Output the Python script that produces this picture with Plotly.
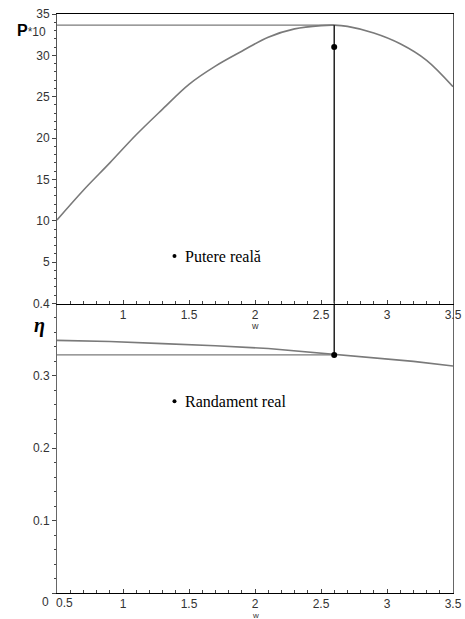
import plotly.graph_objects as go

# ---- data ----
w_P = [0.5, 0.7, 0.9, 1.1, 1.3, 1.5, 1.7, 1.9, 2.1, 2.3, 2.5, 2.6, 2.7, 2.9, 3.1, 3.3, 3.5]
P10 = [10.1, 13.7, 17.0, 20.4, 23.5, 26.5, 28.7, 30.5, 32.2, 33.2, 33.6, 33.65, 33.5, 32.7, 31.4, 29.4, 26.2]

w_eta = [0.5, 0.9, 1.3, 1.7, 2.1, 2.5, 2.6, 2.9, 3.2, 3.5]
eta = [0.349, 0.3475, 0.3445, 0.3417, 0.3378, 0.3315, 0.3297, 0.3254, 0.3200, 0.3137]

w_opt = 2.6
P_opt = 33.65
P_dot = 31.0
eta_opt = 0.329

label_w = 1.39
P_label_y = 5.74
eta_label_y = 0.265

x_ticks = [0.5, 1, 1.5, 2, 2.5, 3, 3.5]
P_ticks = [5, 10, 15, 20, 25, 30, 35]
eta_ticks = [0, 0.1, 0.2, 0.3, 0.4]

CURVE = "#7a7a7a"
AX = "#444444"
TICKFONT = dict(family="Liberation Sans, Arial, sans-serif", size=12, color="#333333")

fig = go.Figure()

# ---- top panel (P*10) ----
fig.add_trace(go.Scatter(x=[x_ticks[0], w_opt], y=[P_opt, P_opt], mode="lines",
                         line=dict(color=CURVE, width=1.3), xaxis="x2", yaxis="y2"))
fig.add_trace(go.Scatter(x=w_P, y=P10, mode="lines", line=dict(color=CURVE, width=1.6, shape="spline"),
                         xaxis="x2", yaxis="y2"))
fig.add_trace(go.Scatter(x=[w_opt, w_opt], y=[P_opt, 0], mode="lines",
                         line=dict(color="black", width=1.3), xaxis="x2", yaxis="y2"))
fig.add_trace(go.Scatter(x=[w_opt], y=[P_dot], mode="markers",
                         marker=dict(color="black", size=6), xaxis="x2", yaxis="y2"))
fig.add_trace(go.Scatter(x=[label_w], y=[P_label_y], mode="markers",
                         marker=dict(color="black", size=4), xaxis="x2", yaxis="y2"))

# ---- bottom panel (eta) ----
fig.add_trace(go.Scatter(x=[x_ticks[0], w_opt], y=[eta_opt, eta_opt], mode="lines",
                         line=dict(color=CURVE, width=1.3), xaxis="x", yaxis="y"))
fig.add_trace(go.Scatter(x=w_eta, y=eta, mode="lines", line=dict(color=CURVE, width=1.6),
                         xaxis="x", yaxis="y"))
fig.add_trace(go.Scatter(x=[w_opt, w_opt], y=[eta_ticks[-1], eta_opt], mode="lines",
                         line=dict(color="black", width=1.3), xaxis="x", yaxis="y"))
fig.add_trace(go.Scatter(x=[w_opt], y=[eta_opt], mode="markers",
                         marker=dict(color="black", size=6), xaxis="x", yaxis="y"))
fig.add_trace(go.Scatter(x=[label_w], y=[eta_label_y], mode="markers",
                         marker=dict(color="black", size=4), xaxis="x", yaxis="y"))

common_x = dict(range=[x_ticks[0], x_ticks[-1]], showgrid=False, zeroline=False, automargin=False,
                showline=True, linewidth=1, ticks="inside", ticklen=4, tickcolor=AX,
                tickfont=TICKFONT,
                minor=dict(dtick=0.1, ticks="inside", ticklen=3, tickcolor=AX))

fig.update_layout(
    width=465, height=619,
    margin=dict(l=56.7, r=11.5, t=14, b=26.3, autoexpand=False),
    paper_bgcolor="white", plot_bgcolor="white",
    showlegend=False,
    xaxis=dict(**common_x, domain=[0, 1], anchor="y", linecolor="black",
               tickvals=x_ticks, ticktext=[""] + [f"{v:g}" for v in x_ticks[1:]]),
    yaxis=dict(domain=[0, 0.5], anchor="x", range=[eta_ticks[0], eta_ticks[-1]], automargin=False,
               showgrid=False, zeroline=False, showline=True, linewidth=1, linecolor="#666666",
               mirror=True, ticks="outside", ticklen=4, tickcolor=AX, tickfont=TICKFONT,
               tickvals=eta_ticks, ticktext=[""] + [f"{v:g}" for v in eta_ticks[1:]],
               minor=dict(dtick=0.02, ticks="outside", ticklen=2, tickcolor=AX)),
    xaxis2=dict(**common_x, domain=[0, 1], anchor="y2", linecolor="black", mirror=True,
                tickvals=x_ticks[1:], ticktext=[f"{v:g}" for v in x_ticks[1:]]),
    yaxis2=dict(domain=[0.5, 1], anchor="x2", range=[0, 35], automargin=False,
                showgrid=False, zeroline=False, showline=True, linewidth=1, linecolor="#555555",
                mirror=True, ticks="outside", ticklen=4, tickcolor=AX, tickfont=TICKFONT,
                tickvals=P_ticks, ticktext=[str(v) for v in P_ticks],
                minor=dict(dtick=1, ticks="outside", ticklen=2, tickcolor=AX)),
)

SERIF = "Liberation Serif, Times New Roman, serif"
ann = [
    dict(x=label_w, y=P_label_y, xref="x2", yref="y2", text="Putere reală", showarrow=False,
         xanchor="left", yanchor="middle", xshift=9, font=dict(family=SERIF, size=16, color="black")),
    dict(x=label_w, y=eta_label_y, xref="x", yref="y", text="Randament real", showarrow=False,
         xanchor="left", yanchor="middle", xshift=9, font=dict(family=SERIF, size=16, color="black")),
    dict(x=2, y=0, xref="x2", yref="y2", text="w", showarrow=False, yanchor="top", yshift=-15,
         font=dict(family="Liberation Sans, Arial", size=9, color="#333333")),
    dict(x=2, y=0, xref="x", yref="y", text="w", showarrow=False, yanchor="top", yshift=-15.5,
         font=dict(family="Liberation Sans, Arial", size=8, color="#333333")),
    dict(x=x_ticks[0], y=0, xref="x", yref="y", text="0.5", showarrow=False,
         xanchor="left", yanchor="top", xshift=-3, yshift=-1, font=TICKFONT),
    dict(x=x_ticks[0], y=0, xref="x", yref="y", text="0", showarrow=False,
         xanchor="right", yanchor="top", xshift=-6, yshift=0, font=TICKFONT),
    dict(x=0, y=33, xref="paper", yref="y2", text="<b><span style='font-size:16px;color:black'>P</span></b>*10",
         showarrow=False, xanchor="right", yanchor="middle", xshift=-9,
         font=dict(family="Liberation Sans, Arial", size=12, color="#333333")),
    dict(x=0, y=0.37, xref="paper", yref="y", text="<b><i>η</i></b>", showarrow=False,
         xanchor="right", yanchor="middle", xshift=-10,
         font=dict(family=SERIF, size=20, color="black")),
]
fig.update_layout(annotations=ann)

fig.write_html("out.html")
